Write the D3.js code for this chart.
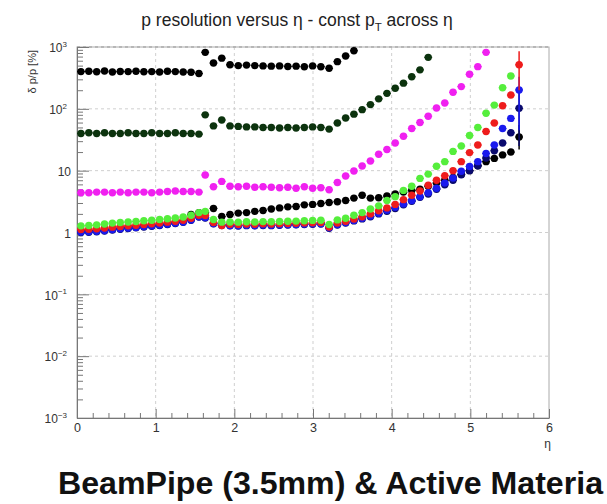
<!DOCTYPE html>
<html>
<head>
<meta charset="utf-8">
<script src="https://cdn.jsdelivr.net/npm/d3@7"></script>
<style>
body { margin: 0; background: #fff; }
text { font-family: "Liberation Sans", Arial, sans-serif; }
</style>
</head>
<body>
<svg width="607" height="504"></svg>
<script>
// eta bin centres: first block below the step, second block after it
const etaA = [0.05, 0.15, 0.25, 0.35, 0.45, 0.55, 0.65, 0.75, 0.85, 0.95, 1.05, 1.15, 1.25, 1.35, 1.45, 1.55]
const etaB = [1.63, 1.735, 1.84, 1.945, 2.05, 2.155, 2.26, 2.365, 2.47, 2.575, 2.68, 2.785, 2.89, 2.995,
	3.1, 3.205, 3.31, 3.415, 3.52, 3.625, 3.73, 3.835, 3.94, 4.045, 4.15, 4.255, 4.36, 4.465, 4.57,
	4.675, 4.78, 4.885, 4.99, 5.095, 5.2, 5.305, 5.41, 5.515, 5.62]
const eta = etaA.concat(etaB)

// delta p / p in %, one value per eta bin (null = off the plot)
const blackTop = [400, 405, 398, 410, 395, 402, 400, 405, 398, 400, 395, 405, 400, 395, 390, 372,
	820, 550, 660, 515, 500, 510, 500, 495, 490, 495, 485, 490, 480, 495, 480, 452, 580, 716, 870,
	null, null, null, null, null, null, null, null, null, null, null, null, null, null, null, null, null, null, null, null]
const darkGreen = [40, 41, 40, 41, 40, 40, 41, 40, 40, 41, 40, 40, 41, 40, 40, 39,
	80, 53, 66, 53, 52, 51, 51, 50, 50, 49, 50, 49, 50, 51, 50, 47,
	59, 71, 82, 97, 117, 145, 178, 215, 260, 330, 427, 680,
	null, null, null, null, null, null, null, null, null, null, null]
const magenta = [4.4, 4.4, 4.5, 4.5, 4.4, 4.5, 4.4, 4.5, 4.5, 4.4, 4.5, 4.6, 4.7, 4.6, 4.6, 4.5,
	8.5, 5.5, 6.7, 5.6, 5.5, 5.6, 5.4, 5.5, 5.4, 5.3, 5.4, 5.2, 5.5, 5.2, 5.3, 4.9,
	6.45, 8.2, 9.9, 11.9, 14.3, 18.4, 22, 28, 36, 48, 60, 76, 103, 124, 185, 229, 362, 481, 820,
	null, null, null, null]
const blackLow = [1.05, 1.06, 1.08, 1.10, 1.14, 1.17, 1.20, 1.23, 1.27, 1.30, 1.34, 1.39, 1.45, 1.55, 1.95, 2.10,
	2.1, 2.45, 1.81, 1.95, 2.06, 2.1, 2.2, 2.27, 2.4, 2.5, 2.6, 2.63, 2.8, 2.85, 2.95, 3.05,
	3.15, 3.3, 3.6, 4.0, 3.6, 3.65, 3.9, 4.2, 4.5, 4.8, 5.0, 5.6, 6.3, 7.0, 7.8, 8.7, 10, 12, 14, 15.8, 18, 20, 35]
const navy = [1.0, 1.01, 1.03, 1.06, 1.10, 1.13, 1.16, 1.19, 1.23, 1.26, 1.30, 1.35, 1.40, 1.46, 1.58, 1.78,
	1.72, 1.38, 1.30, 1.28, 1.27, 1.29, 1.28, 1.30, 1.29, 1.31, 1.32, 1.33, 1.35, 1.36, 1.37, 1.17,
	1.32, 1.42, 1.54, 1.66, 1.8, 2.0, 2.2, 2.45, 2.8, 3.2, 3.7, 4.2, 5.0, 5.9, 7.0, 8.6, 10, 12, 16, 21, 28, 41, 102]
const blue = [1.02, 1.03, 1.05, 1.08, 1.12, 1.15, 1.18, 1.21, 1.25, 1.28, 1.32, 1.37, 1.42, 1.48, 1.60, 1.80,
	1.75, 1.40, 1.32, 1.30, 1.29, 1.31, 1.30, 1.32, 1.31, 1.33, 1.34, 1.35, 1.37, 1.38, 1.39, 1.19,
	1.35, 1.45, 1.57, 1.7, 1.85, 2.05, 2.3, 2.55, 2.9, 3.3, 3.8, 4.4, 5.2, 6.3, 7.6, 9.8, 11.7, 14, 19, 26, 48, 70, 202]
const red = [1.12, 1.13, 1.15, 1.18, 1.22, 1.25, 1.28, 1.31, 1.35, 1.38, 1.42, 1.47, 1.52, 1.58, 1.70, 1.90,
	1.88, 1.45, 1.30, 1.36, 1.35, 1.37, 1.36, 1.38, 1.37, 1.39, 1.40, 1.41, 1.43, 1.44, 1.45, 1.23,
	1.42, 1.52, 1.65, 1.8, 2.0, 2.25, 2.5, 2.85, 3.4, 4.0, 4.7, 5.8, 7.0, 8.3, 10, 14, 19.6, 26, 43, 59, 112, 167, 515]
const green = [1.28, 1.30, 1.33, 1.37, 1.42, 1.45, 1.48, 1.51, 1.55, 1.58, 1.62, 1.67, 1.72, 1.78, 1.90, 2.10,
	2.2, 1.62, 1.47, 1.48, 1.47, 1.49, 1.48, 1.50, 1.49, 1.51, 1.52, 1.53, 1.55, 1.57, 1.58, 1.35,
	1.6, 1.7, 1.9, 2.1, 2.4, 2.7, 3.3, 3.8, 4.8, 5.6, 7.5, 8.8, 11.8, 14, 20.5, 25, 37, 50, 85, 115, 219, 340, null]

// error bars on the last bin [low, high]
const redErr = [200, 850]
const blueErr = [45, 330]
const navyErr = [25, 200]
const blackErr = [22, 55]

const xTicks = [0, 1, 2, 3, 4, 5, 6]
const yTicks = [1e-3, 1e-2, 1e-1, 1, 10, 100, 1000]
const yTickLabels = [['10', '\u22123'], ['10', '\u22122'], ['10', '\u22121'], ['1', ''], ['10', ''], ['10', '2'], ['10', '3']]

const series = [
	{values: blackTop, color: '#000000'},
	{values: darkGreen, color: '#0c330e'},
	{values: magenta, color: '#f020f0'},
	{values: blackLow, color: '#000000', err: blackErr},
	{values: navy, color: '#0a0a6e', err: navyErr},
	{values: blue, color: '#1a1aee', err: blueErr},
	{values: red, color: '#ee1c1c', err: redErr},
	{values: green, color: '#55ee3c'}
]

const svg = d3.select('svg')
const fr = {left: 77, right: 549, top: 47, bottom: 418}

const x = d3.scaleLinear().domain([0, 6]).range([fr.left, fr.right])
const y = d3.scaleLog().domain([1e-3, 1e3]).range([fr.bottom, fr.top])

// frame
svg.append('rect')
	.attr('x', fr.left).attr('y', fr.top)
	.attr('width', fr.right - fr.left).attr('height', fr.bottom - fr.top)
	.attr('fill', 'none').attr('stroke', '#aaa')

// dashed grid at major ticks
const grid = svg.append('g').attr('stroke', '#cfcfcf').attr('stroke-dasharray', '3,3')
grid.selectAll('.gx').data(xTicks.slice(1, -1)).join('line')
	.attr('x1', d => x(d)).attr('x2', d => x(d))
	.attr('y1', fr.top).attr('y2', fr.bottom)
grid.selectAll('.gy').data(yTicks.slice(1)).join('line')
	.attr('stroke', d => d === 1000 ? '#999' : null)
	.attr('x1', fr.left).attr('x2', fr.right)
	.attr('y1', d => y(d)).attr('y2', d => y(d))

// x axis: ticks point up into the frame
const xMinor = d3.range(0, 6.01, 0.2).filter(v => Math.abs(v - Math.round(v)) > 1e-6)
const gx = svg.append('g').attr('transform', `translate(0,${fr.bottom})`)
gx.call(d3.axisBottom(x).tickValues(xTicks).tickSizeInner(-9).tickSizeOuter(0).tickPadding(5).tickFormat(d3.format('d')))
svg.append('g').attr('transform', `translate(0,${fr.bottom})`)
	.call(d3.axisBottom(x).tickValues(xMinor).tickSizeInner(-5).tickSizeOuter(0).tickFormat(''))
	.select('.domain').remove()

// y axis: log, ticks point right into the frame
const yMinor = []
for (let e = -3; e < 3; e++) for (let m = 2; m <= 9; m++) yMinor.push(m * Math.pow(10, e))
const gy = svg.append('g').attr('transform', `translate(${fr.left},0)`)
gy.call(d3.axisLeft(y).tickValues(yTicks).tickSizeInner(-12).tickSizeOuter(0).tickPadding(7).tickFormat(''))
svg.append('g').attr('transform', `translate(${fr.left},0)`)
	.call(d3.axisLeft(y).tickValues(yMinor).tickSizeInner(-6).tickSizeOuter(0).tickFormat(''))
	.select('.domain').remove()

svg.selectAll('.domain, .tick line').attr('stroke', '#777')

gx.selectAll('.tick text').attr('font-size', 12.5).attr('fill', '#333')
	.attr('font-family', '"Liberation Sans", Arial, sans-serif')

gy.selectAll('.tick text').each(function(d, i) {
	const t = d3.select(this)
		.attr('font-size', 12).attr('fill', '#333').attr('dy', '0.4em')
		.attr('x', yTickLabels[i][1] ? -10 : -6)
		.attr('font-family', '"Liberation Sans", Arial, sans-serif')
	t.append('tspan').text(yTickLabels[i][0])
	if (yTickLabels[i][1]) {
		t.append('tspan').attr('font-size', 8).attr('dy', '-0.7em').text(yTickLabels[i][1])
	}
})

// markers with half-bin horizontal error bars
const plot = svg.append('g')
series.forEach(s => {
	const pts = eta.map((e, i) => ({e, v: s.values[i]})).filter(d => d.v != null)
	const g = plot.append('g').attr('fill', s.color).attr('stroke', s.color)
	g.selectAll('line').data(pts).join('line')
		.attr('x1', d => x(d.e - 0.05)).attr('x2', d => x(d.e + 0.05))
		.attr('y1', d => y(d.v)).attr('y2', d => y(d.v))
		.attr('stroke-width', 1.2)
	if (s.err) {
		const last = pts[pts.length - 1]
		g.append('line')
			.attr('x1', x(last.e)).attr('x2', x(last.e))
			.attr('y1', y(s.err[0])).attr('y2', y(s.err[1]))
			.attr('stroke-width', 1.5)
	}
	g.selectAll('circle').data(pts).join('circle')
		.attr('cx', d => x(d.e)).attr('cy', d => y(d.v))
		.attr('r', 3.7).attr('stroke', 'none')
})

// axis titles
svg.append('text')
	.attr('transform', 'translate(36,50) rotate(-90)')
	.attr('text-anchor', 'end')
	.attr('font-size', 11).attr('fill', '#333')
	.text('\u03b4 p/p [%]')

svg.append('text')
	.attr('x', 551).attr('y', 448)
	.attr('text-anchor', 'end')
	.attr('font-size', 12).attr('fill', '#333')
	.text('\u03b7')

// title with subscript T
const title = svg.append('text')
	.attr('x', 297).attr('y', 26)
	.attr('text-anchor', 'middle')
	.attr('font-size', 17.5).attr('fill', '#222')
title.append('tspan').text('p resolution versus \u03b7 - const p')
title.append('tspan').attr('font-size', 11.5).attr('dy', 5).text('T')
title.append('tspan').attr('dy', -5).text(' across \u03b7')

// caption under the chart
svg.append('text')
	.attr('x', 58).attr('y', 494)
	.attr('font-size', 32).attr('font-weight', 'bold').attr('fill', '#111')
	.attr('textLength', 545).attr('lengthAdjust', 'spacingAndGlyphs')
	.text('BeamPipe (3.5mm) & Active Materia')
</script>
</body>
</html>
